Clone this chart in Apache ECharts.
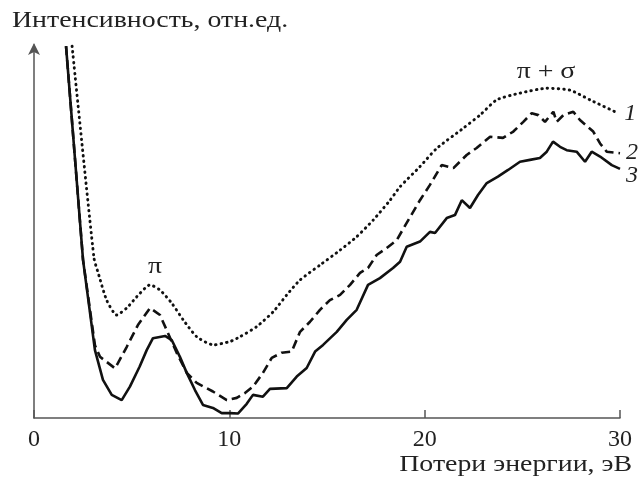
<!DOCTYPE html>
<html>
<head>
<meta charset="utf-8">
<script src="https://cdn.jsdelivr.net/npm/echarts@6/dist/echarts.min.js"></script>
<style>html,body{margin:0;padding:0;background:#fff}#c{width:640px;height:477px}</style>
</head>
<body>
<div id="c"></div>
<script>
// Curve 1 (dotted)
const x1 = [1.95,3.07,3.29,3.72,4.23,4.75,5.26,5.94,6.45,7.05,7.64,8.33,9.18,10.03,10.55,11.40,12.25,12.94,13.62,14.64,15.67,16.52,17.37,18.23,18.74,19.76,20.62,21.98,22.83,23.69,24.88,26.25,27.44,28.46,29.91];
const y1 = [99.7,42.9,38.8,31.6,27.6,29.5,32.5,35.7,34.3,30.8,26.3,21.8,19.6,20.5,21.8,24.5,28.5,33.0,37.0,41.0,45.0,48.6,53.1,58.4,62.0,67.4,72.3,77.7,81.2,85.3,87.1,88.4,87.9,85.3,81.7];
// Curve 2 (dashed)
const x2 = [1.64,2.51,3.12,3.38,4.15,4.75,5.32,5.94,6.45,6.79,7.31,7.82,8.33,9.16,9.87,10.38,10.80,11.21,11.72,12.17,12.68,13.19,13.62,14.13,14.64,15.15,15.67,16.18,16.69,17.10,17.54,18.06,18.57,19.08,19.76,20.27,20.87,21.47,22.15,22.66,23.35,24.01,24.54,25.05,25.48,25.82,26.16,26.59,26.76,27.10,27.61,27.95,28.63,28.98,29.32,30.0];
const y2 = [99.7,42.4,19.5,16.4,13.3,19.1,24.9,29.5,27.6,23.6,17.4,12.1,9.4,7.1,4.8,5.4,6.7,8.4,12.1,16.1,17.5,17.8,23.1,25.8,29.0,31.6,33.0,35.7,38.9,40.2,43.7,45.6,47.7,52.3,58.4,62.5,67.8,67.0,70.5,72.4,75.4,75.1,76.8,79.4,81.7,81.2,79.4,82.1,79.4,81.2,82.1,79.9,76.8,73.6,71.4,71.0];
// Curve 3 (solid)
const x3 = [1.64,2.51,3.12,3.53,3.98,4.49,4.91,5.41,5.77,6.09,6.71,7.05,7.47,7.82,8.24,8.65,9.16,9.61,10.03,10.44,10.89,11.21,11.72,12.08,12.94,13.45,13.96,14.39,14.80,15.50,16.01,16.52,17.10,17.71,18.38,18.74,19.08,19.76,20.27,20.53,21.13,21.55,21.90,22.32,22.73,23.18,23.75,24.27,24.88,25.39,25.90,26.25,26.57,26.93,27.27,27.78,28.21,28.55,28.98,29.58,30.0];
const y3 = [99.7,42.4,18.2,10.2,6.2,4.8,8.4,13.8,18.2,21.4,22.0,20.9,16.4,12.1,7.5,3.5,2.7,1.3,1.3,1.2,3.8,6.2,5.7,7.8,8.0,11.1,13.4,17.8,19.6,23.1,26.3,29.0,35.7,37.5,40.2,41.9,45.9,47.3,49.9,49.6,53.6,54.4,58.4,56.3,59.8,63.0,64.7,66.5,68.7,69.2,69.7,71.4,74.1,72.7,71.8,71.4,68.7,71.4,70.1,67.8,66.8];
const xTicks = [0, 10, 20, 30];
const curveLabels = ['1', '2', '3'];

const pair = (xs, ys) => xs.map((x, i) => [x, ys[i]]);
const FONT = 'Liberation Serif';
const chart = echarts.init(document.getElementById('c'), null, {renderer: 'canvas'});
function mk(name, xs, ys, ls, lab, off, smooth) {
  return {
    type: 'line', name: name, data: pair(xs, ys), showSymbol: false, symbol: 'none',
    smooth: smooth, clip: false,
    lineStyle: Object.assign({color: '#111', width: 2.6}, ls),
    endLabel: {show: true, formatter: lab, fontFamily: FONT, fontStyle: 'italic', fontSize: 24, color: '#222', offset: off, distance: 6},
    z: 3
  };
}
const txt = (s, x, y, align) => ({
  type: 'text', x: x, y: y, scaleX: 1.16,
  style: {text: s, fontFamily: FONT, fontSize: 24, fill: '#222', align: align, verticalAlign: 'middle'}
});
chart.setOption({
  animation: false,
  grid: {left: 34, right: 20, top: 45, bottom: 59},
  xAxis: {
    type: 'value', min: xTicks[0], max: xTicks[xTicks.length - 1], interval: 10,
    axisLine: {lineStyle: {color: '#555', width: 1.5}},
    axisTick: {inside: true, length: 8, lineStyle: {color: '#555', width: 1.5}},
    axisLabel: {fontFamily: FONT, fontSize: 24, color: '#222', margin: 10},
    splitLine: {show: false}
  },
  yAxis: {
    type: 'value', min: 0, max: 100,
    axisLine: {show: true, lineStyle: {color: '#555', width: 1.5}, symbol: ['none', 'arrow'], symbolSize: [9, 12], symbolOffset: [0, 2]},
    axisTick: {show: false}, axisLabel: {show: false}, splitLine: {show: false}
  },
  graphic: [
    txt('Интенсивность, отн.ед.', 12, 21, 'left'),
    txt('Потери энергии, эВ', 632, 465, 'right'),
    txt('π', 155, 267, 'center'),
    txt('π + σ', 546, 72, 'center')
  ],
  series: [
    mk('1', x1, y1, {type: [0.5, 5], cap: 'round', width: 2.9}, curveLabels[0], [0, 0], 0.2),
    mk('2', x2, y2, {type: [9, 5]}, curveLabels[1], [0, 0], false),
    mk('3', x3, y3, {type: 'solid'}, curveLabels[2], [0, 7], false)
  ]
});
</script>
</body>
</html>
